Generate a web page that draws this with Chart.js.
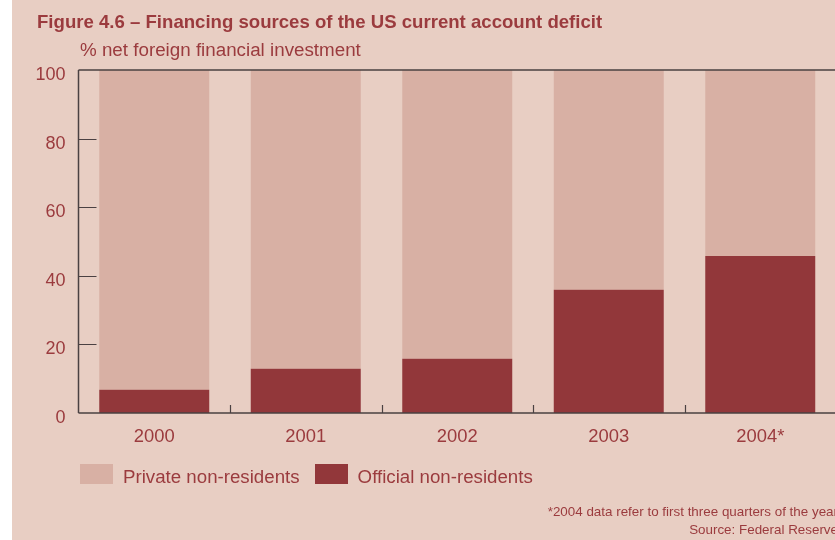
<!DOCTYPE html>
<html>
<head>
<meta charset="utf-8">
<script src="https://cdn.jsdelivr.net/npm/chart.js@4.4.1/dist/chart.umd.min.js"></script>
<style>
  html, body { margin: 0; padding: 0; background: #ffffff; overflow: hidden; }
  body { width: 835px; height: 540px; position: relative; font-family: 'Liberation Sans', Arial, sans-serif; color: #9b3b3e; }
  #panel { position: absolute; left: 12px; top: 0; width: 823px; height: 540px; background: #e8cec3; }
  #wrap { position: absolute; left: 0; top: 0; width: 860px; height: 540px; }
  #title { position: absolute; left: 37px; top: 11px; font-size: 18.6px; font-weight: bold; white-space: nowrap; }
  #subtitle { position: absolute; left: 80px; top: 39px; font-size: 18.8px; white-space: nowrap; }
  #legend { position: absolute; left: 80px; top: 464px; font-size: 18.7px; white-space: nowrap; }
  .item { display: inline-block; margin-right: 15px; position: relative; }
  .sw { display: inline-block; width: 33px; height: 20px; vertical-align: top; margin-right: 10px; }
  .lbl { display: inline-block; line-height: 22px; vertical-align: top; margin-top: 2px; }
  #notes { position: absolute; left: 0; top: 503px; width: 838px; text-align: right; font-size: 13.4px; line-height: 18px; white-space: nowrap; }
</style>
</head>
<body>
<div id="panel"></div>
<div id="wrap"><canvas id="chart" width="860" height="540"></canvas></div>
<div id="title">Figure 4.6 – Financing sources of the US current account deficit</div>
<div id="subtitle">% net foreign financial investment</div>
<div id="legend"></div>
<div id="notes">*2004 data refer to first three quarters of the year<br>Source: Federal Reserve</div>
<script>
// data
const years = ['2000', '2001', '2002', '2003', '2004*'];
const official = [6.8, 12.9, 15.8, 35.9, 45.8];
const privateNR = [93.2, 87.1, 84.2, 64.1, 54.2];
const yTicks = [0, 20, 40, 60, 80, 100];

const textColor = '#9b3b3e';
const axisColor = '#4a4142';
const privateColor = '#d8b0a4';
const officialColor = '#92373a';

// axis lines and inward tick marks, drawn on top of the bars
const axesPlugin = {
  id: 'axesLines',
  afterDatasetsDraw(chart) {
    const { ctx, chartArea: a, scales: { x, y } } = chart;
    ctx.save();
    ctx.strokeStyle = axisColor;
    ctx.lineWidth = 1.5;
    ctx.beginPath();
    ctx.moveTo(a.left, a.bottom); ctx.lineTo(a.right, a.bottom);
    ctx.moveTo(a.left, a.top); ctx.lineTo(a.right, a.top);
    ctx.moveTo(a.left, a.top); ctx.lineTo(a.left, a.bottom);
    ctx.stroke();
    ctx.lineWidth = 1.2;
    ctx.beginPath();
    yTicks.forEach(v => {
      if (v === 0 || v === 100) return;
      const py = Math.round(y.getPixelForValue(v)) + 0.5;
      ctx.moveTo(a.left, py); ctx.lineTo(a.left + 18, py);
    });
    // category boundaries on the x axis
    const step = x.getPixelForValue(1) - x.getPixelForValue(0);
    for (let i = 1; i <= years.length; i++) {
      const px = Math.round(x.getPixelForValue(i - 1) + step / 2) + 0.5;
      ctx.moveTo(px, a.bottom); ctx.lineTo(px, a.bottom - 8);
    }
    ctx.stroke();
    ctx.restore();
  }
};

const chart = new Chart(document.getElementById('chart'), {
  type: 'bar',
  data: {
    labels: years,
    datasets: [
      { label: 'Official non-residents', data: official, backgroundColor: officialColor, borderWidth: 0 },
      { label: 'Private non-residents', data: privateNR, backgroundColor: privateColor, borderWidth: 0 }
    ]
  },
  options: {
    responsive: false,
    animation: false,
    layout: { padding: { left: 0, right: 24, top: 70, bottom: 87 } },
    datasets: { bar: { barPercentage: 0.726, categoryPercentage: 1.0 } },
    plugins: { legend: { display: false }, tooltip: { enabled: false }, title: { display: false } },
    scales: {
      x: {
        stacked: true,
        grid: { display: false, drawTicks: false },
        border: { display: false },
        ticks: { color: textColor, font: { family: "'Liberation Sans', Arial, sans-serif", size: 18.4 }, padding: 13 },
        afterFit(scale) { scale.height = 40; }
      },
      y: {
        stacked: true,
        min: 0, max: 100,
        afterBuildTicks(scale) { scale.ticks = yTicks.map(v => ({ value: v })); },
        grid: { display: false, drawTicks: false },
        border: { display: false },
        ticks: { color: textColor, font: { family: "'Liberation Sans', Arial, sans-serif", size: 18 }, padding: 13, labelOffset: 5 },
        afterFit(scale) { scale.width = 78.5; }
      }
    }
  },
  plugins: [axesPlugin]
});

// legend: private first, then official, as in the figure
const legend = document.getElementById('legend');
[1, 0].forEach(i => {
  const ds = chart.data.datasets[i];
  const item = document.createElement('span');
  item.className = 'item';
  item.innerHTML = '<span class="sw" style="background:' + ds.backgroundColor + '"></span><span class="lbl">' + ds.label + '</span>';
  legend.appendChild(item);
});
</script>
</body>
</html>
